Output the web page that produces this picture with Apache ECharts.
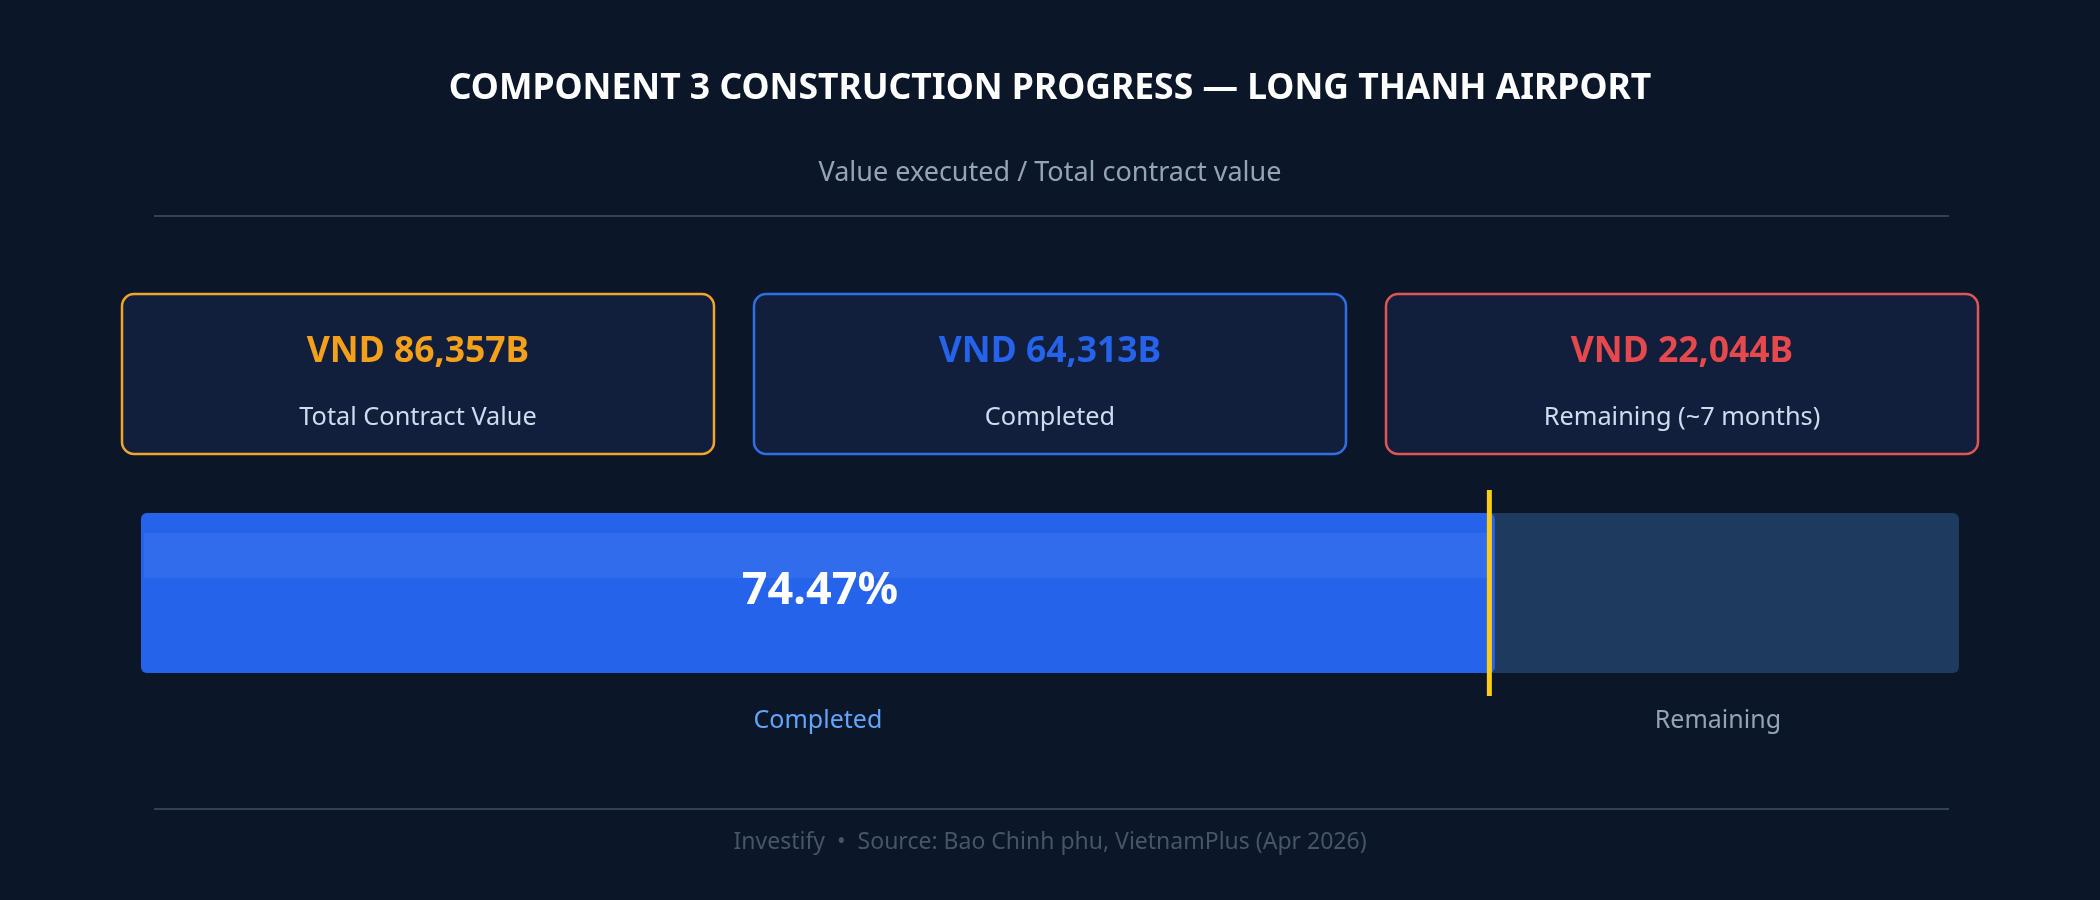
<!DOCTYPE html>
<html>
<head>
<meta charset="utf-8">
<script src="https://cdn.jsdelivr.net/npm/echarts@6/dist/echarts.min.js"></script>
<style>
  html, body { margin: 0; padding: 0; background: #0b1628; }
  #chart { width: 2100px; height: 900px; }
</style>
</head>
<body>
<div id="chart"></div>
<script>
// ---- data ----
const titleText = 'COMPONENT 3 CONSTRUCTION PROGRESS \u2014 LONG THANH AIRPORT';
const subtitleText = 'Value executed / Total contract value';
const footerText = 'Investify  \u2022  Source: Bao Chinh phu, VietnamPlus (Apr 2026)';
const cardValues = [86357, 64313, 22044];            // VND billion
const cardLabels = ['Total Contract Value', 'Completed', 'Remaining (~7 months)'];
const categories = ['Progress'];
const completedPct = [74.47];
const totalPct = [100];
const segmentLabels = ['Completed', 'Remaining'];

// ---- styles ----
const FONT = '"Noto Sans", "Open Sans", sans-serif';
const cardColors = ['#f5a01a', '#2563eb', '#e5484d'];
const cardBorders = ['#f0a52b', '#2f6fe6', '#e05656'];

const fmt = v => 'VND ' + v.toLocaleString('en-US') + 'B';

const graphics = [];
graphics.push({ type: 'text', x: 1050, y: 89, style: { text: titleText, fill: '#ffffff', font: 'bold 35.5px ' + FONT, textAlign: 'center', textVerticalAlign: 'middle' } });
graphics.push({ type: 'text', x: 1050, y: 173, style: { text: subtitleText, fill: '#94a3b8', font: '27px ' + FONT, textAlign: 'center', textVerticalAlign: 'middle' } });
graphics.push({ type: 'line', shape: { x1: 154, y1: 216, x2: 1949, y2: 216 }, style: { stroke: '#334155', lineWidth: 2 } });
graphics.push({ type: 'line', shape: { x1: 154, y1: 809, x2: 1949, y2: 809 }, style: { stroke: '#334155', lineWidth: 2 } });
graphics.push({ type: 'text', x: 1050, y: 842, style: { text: footerText, fill: '#475569', font: '23px ' + FONT, textAlign: 'center', textVerticalAlign: 'middle' } });

const cardX = [122, 754, 1386];
cardValues.forEach((v, i) => {
  const cx = cardX[i] + 296;
  graphics.push({ type: 'rect', shape: { x: cardX[i], y: 294, width: 592, height: 160, r: 12 }, style: { fill: '#121f3c', stroke: cardBorders[i], lineWidth: 2.5 } });
  graphics.push({ type: 'text', x: cx, y: 352, style: { text: fmt(v), fill: cardColors[i], font: 'bold 35.5px ' + FONT, textAlign: 'center', textVerticalAlign: 'middle' } });
  graphics.push({ type: 'text', x: cx, y: 418, style: { text: cardLabels[i], fill: '#cfdbee', font: '25.3px ' + FONT, textAlign: 'center', textVerticalAlign: 'middle' } });
});

const chart = echarts.init(document.getElementById('chart'), null, { renderer: 'canvas' });
const BAR_W = 160;

chart.setOption({
  backgroundColor: '#0b1628',
  animation: false,
  graphic: graphics,
  grid: { left: 141, right: 141, top: 490, height: 206 },
  xAxis: { type: 'value', min: 0, max: 100, show: false },
  yAxis: { type: 'category', data: categories, show: false },
  series: [
    {
      name: 'Track', type: 'bar', data: totalPct, barWidth: BAR_W, z: 1,
      itemStyle: { color: '#1e3a5f', borderRadius: 6 }, silent: true
    },
    {
      name: 'Completed', type: 'bar', data: completedPct, barWidth: BAR_W, barGap: '-100%', z: 2,
      itemStyle: { color: '#2563eb', borderRadius: 6 },
      label: { show: true, position: 'inside', formatter: p => p.value.toFixed(2) + '%', color: '#ffffff', fontFamily: FONT, fontWeight: 'bold', fontSize: 45, offset: [2, -2] }
    },
    {
      name: 'Highlight', type: 'custom', z: 3, silent: true,
      data: completedPct.map((v, i) => [v, i]),
      encode: { x: 0, y: 1 },
      renderItem: (params, api) => {
        const end = api.coord([api.value(0), api.value(1)]);
        const start = api.coord([0, api.value(1)]);
        const top = end[1] - BAR_W / 2;
        return {
          type: 'rect',
          shape: { x: start[0] + 3, y: top + 20, width: end[0] - start[0] - 9, height: 45 },
          style: { fill: 'rgba(255,255,255,0.06)' }
        };
      }
    },
    {
      name: 'Marker', type: 'custom', z: 5, silent: true,
      data: completedPct.map((v, i) => [v, i]),
      encode: { x: 0, y: 1 },
      renderItem: (params, api) => {
        const p = api.coord([api.value(0), api.value(1)]);
        return {
          type: 'rect',
          shape: { x: p[0] - 8, y: params.coordSys.y, width: 5, height: params.coordSys.height },
          style: { fill: '#facc15' }
        };
      }
    },
    {
      name: 'Segment labels', type: 'custom', z: 4, silent: true,
      data: [[0, completedPct[0], 0], [completedPct[0], totalPct[0], 0]],
      encode: { x: [0, 1], y: 2 },
      renderItem: (params, api) => {
        const a = api.coord([api.value(0), 0]);
        const b = api.coord([api.value(1), 0]);
        const idx = params.dataIndex;
        return {
          type: 'text',
          x: (a[0] + b[0]) / 2 - (idx === 1 ? 9 : 0),
          y: a[1] + BAR_W / 2 + 48,
          style: {
            text: segmentLabels[idx],
            fill: idx === 0 ? '#60a5fa' : '#94a3b8',
            font: '25px ' + FONT,
            textAlign: 'center', textVerticalAlign: 'middle'
          }
        };
      }
    }
  ]
});
</script>
</body>
</html>
